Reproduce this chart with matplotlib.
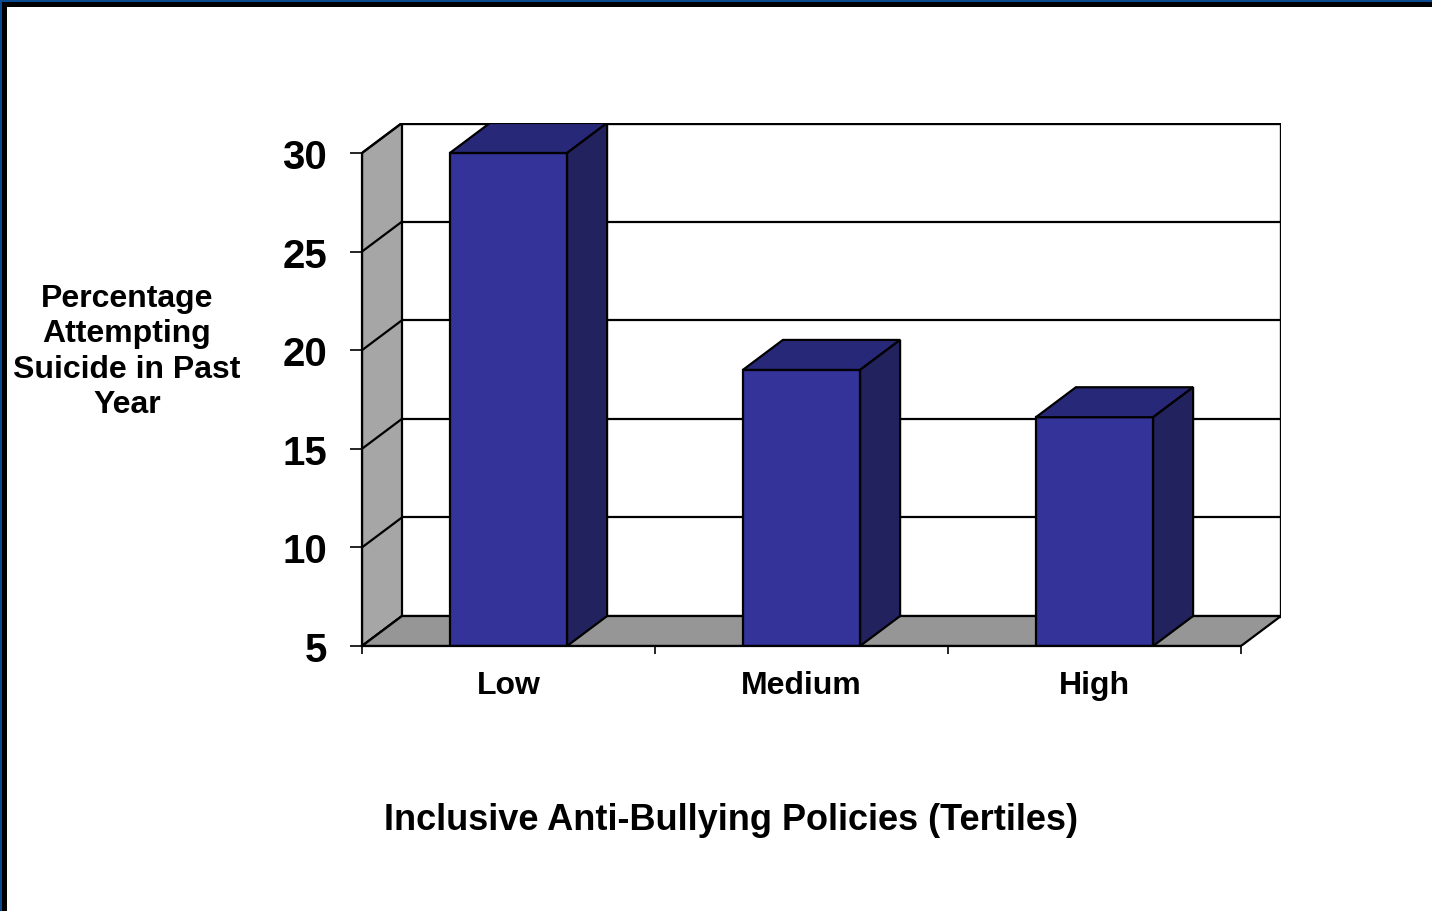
import matplotlib
matplotlib.use('Agg')
import matplotlib.pyplot as plt
from matplotlib.patches import Polygon, Rectangle

# data
categories = ['Low', 'Medium', 'High']
values = [30.0, 19.0, 16.6]
y_ticks = [5, 10, 15, 20, 25, 30]

# 3d look (in data units)
depth_x = 0.1365
depth_y = 1.52
bar_w = 0.40
y_min, y_max = 5, 30

front_col = '#333399'
top_col = '#282878'
side_col = '#22225f'
wall_col = '#a6a6a6'
floor_col = '#969696'

plt.rcParams['font.family'] = ['Liberation Sans', 'DejaVu Sans']
plt.rcParams['font.weight'] = 'bold'

fig = plt.figure(figsize=(14.32, 9.12), dpi=100)
fig.patch.set_facecolor('white')

# slide frame: blue strip then black line, top and left only
fig.add_artist(Rectangle((0, 1 - 3 / 912), 1, 3 / 912, transform=fig.transFigure,
                         color='#0b4a8e', lw=0))
fig.add_artist(Rectangle((0, 1 - 8 / 912), 1, 5 / 912, transform=fig.transFigure,
                         color='black', lw=0))
fig.add_artist(Rectangle((0, 0), 2 / 1432, 1, transform=fig.transFigure,
                         color='#0b4a8e', lw=0))
fig.add_artist(Rectangle((2 / 1432, 0), 5 / 1432, 1 - 3 / 912, transform=fig.transFigure,
                         color='black', lw=0))

ax = fig.add_axes([362 / 1432, 1 - 647 / 912, 919 / 1432, 523 / 912])
n = len(categories)
ax.set_xlim(0, n + depth_x)
ax.set_ylim(y_min, y_max + depth_y)
ax.patch.set_alpha(0)

lw = 1.6
# back wall gridlines
for v in y_ticks:
    w = lw + 0.8 if v == y_max else lw
    ax.plot([depth_x, n + depth_x], [v + depth_y, v + depth_y], color='black', lw=w,
            zorder=1, solid_capstyle='projecting')
ax.plot([n + depth_x, n + depth_x], [y_min + depth_y, y_max + depth_y], color='black',
        lw=lw + 0.8, zorder=1, solid_capstyle='projecting')

# left wall
ax.add_patch(Polygon([(0, y_min), (depth_x, y_min + depth_y), (depth_x, y_max + depth_y), (0, y_max)],
                     closed=True, facecolor=wall_col, edgecolor='black', lw=lw, zorder=2))
for v in y_ticks:
    ax.plot([0, depth_x], [v, v + depth_y], color='black', lw=lw, zorder=2)

# floor
ax.add_patch(Polygon([(0, y_min), (n, y_min), (n + depth_x, y_min + depth_y), (depth_x, y_min + depth_y)],
                     closed=True, facecolor=floor_col, edgecolor='black', lw=lw, zorder=2))

# bars
for i, v in enumerate(values):
    c = i + 0.5
    x0, x1 = c - bar_w / 2, c + bar_w / 2
    ax.add_patch(Polygon([(x0, y_min), (x1, y_min), (x1, v), (x0, v)], closed=True,
                         facecolor=front_col, edgecolor='black', lw=lw, zorder=3))
    ax.add_patch(Polygon([(x0, v), (x1, v), (x1 + depth_x, v + depth_y), (x0 + depth_x, v + depth_y)],
                         closed=True, facecolor=top_col, edgecolor='black', lw=lw, zorder=3))
    ax.add_patch(Polygon([(x1, y_min), (x1 + depth_x, y_min + depth_y), (x1 + depth_x, v + depth_y), (x1, v)],
                         closed=True, facecolor=side_col, edgecolor='black', lw=lw, zorder=3))

for s in ['top', 'right']:
    ax.spines[s].set_visible(False)
ax.spines['left'].set_bounds(y_min, y_max)
ax.spines['bottom'].set_bounds(0, n)
ax.spines['left'].set_linewidth(lw)
ax.spines['bottom'].set_linewidth(lw)
ax.spines['left'].set_zorder(4)
ax.spines['bottom'].set_zorder(4)

ax.set_yticks(y_ticks)
ax.set_yticklabels([str(t) for t in y_ticks], fontsize=29, fontweight='bold')
ax.tick_params(axis='y', length=9, width=1.2, pad=16)

ax.set_xticks(range(n + 1))
ax.set_xticklabels([''] * (n + 1))
ax.set_xticks([i + 0.5 for i in range(n)], minor=True)
ax.set_xticklabels(categories, minor=True, fontsize=23, fontweight='bold')
ax.tick_params(axis='x', which='major', length=6, width=1.2, direction='out')
ax.tick_params(axis='x', which='minor', length=0, pad=17)

fig.text(127 / 1432, 1 - 352 / 912, 'Percentage\nAttempting\nSuicide in Past\nYear',
         ha='center', va='center', fontsize=23, fontweight='bold', linespacing=1.23)
fig.text(731 / 1432, 1 - 821 / 912, 'Inclusive Anti-Bullying Policies (Tertiles)',
         ha='center', va='center', fontsize=26, fontweight='bold')

fig.savefig('out.png', dpi=100)
